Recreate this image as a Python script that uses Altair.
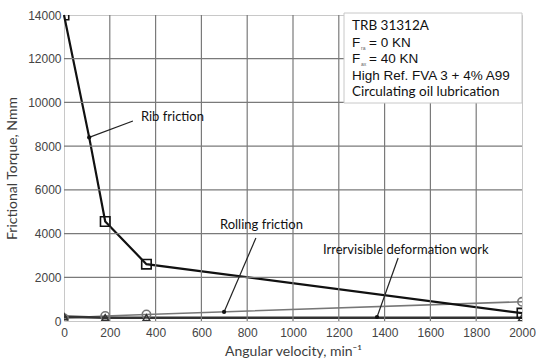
import altair as alt
import pandas as pd

# ---- data ----
speed = [0, 180, 360, 2000]
rib_x = [0, 110, 180, 360, 2000]
rib_y = [14000, 8400, 4550, 2600, 360]
rolling_y = [130, 230, 300, 880]
deform_y = [200, 150, 150, 150]

x_ticks = list(range(0, 2001, 200))
y_ticks = list(range(0, 14001, 2000))

ann_text = ["Rib friction", "Rolling friction", "Irrervisible deformation work"]
ann_tx = [336, 681, 1131]
ann_ty = [9333, 4392, 3248]
ptr_x1 = [301, 838, 1459]
ptr_y1 = [9150, 3797, 2882]
ptr_x2 = [110, 699, 1367]
ptr_y2 = [8400, 412, 183]

legend_lines = ["TRB 31312A", "= 0 KN", "= 40 KN", "High Ref. FVA 3 + 4% A99", "Circulating oil lubrication"]

W, H = 458, 306

rib = pd.DataFrame({"x": rib_x, "y": rib_y})
rib_m = pd.DataFrame({"x": speed, "y": [rib_y[0]] + rib_y[2:]})
roll = pd.DataFrame({"x": speed, "y": rolling_y})
defo = pd.DataFrame({"x": speed, "y": deform_y})
ann = pd.DataFrame({"t": ann_text, "x": ann_tx, "y": ann_ty,
                    "x1": ptr_x1, "y1": ptr_y1, "xe": ptr_x2, "ye": ptr_y2})
gx = pd.DataFrame({"gxv": x_ticks[1:-1]})
gy = pd.DataFrame({"gyv": y_ticks[1:-1]})

xs = alt.Scale(domain=[0, 2000], nice=False)
ys = alt.Scale(domain=[0, 14000], nice=False)

xax = alt.Axis(values=x_ticks, title="Angular velocity, min\u207b\u00b9", format="d")
yax = alt.Axis(values=y_ticks, title="Frictional Torque, Nmm", format="d")

X = alt.X("x:Q", scale=xs, axis=xax)
Y = alt.Y("y:Q", scale=ys, axis=yax)

grid_x = alt.Chart(gx).mark_rule(color="#7a7a7a", strokeWidth=1.2).encode(
    x=alt.X("gxv:Q", scale=xs, axis=xax), y=alt.value(0), y2=alt.value(H))
grid_y = alt.Chart(gy).mark_rule(color="#7a7a7a", strokeWidth=1.2).encode(
    y=alt.Y("gyv:Q", scale=ys, axis=yax), x=alt.value(0), x2=alt.value(W))

rib_line = alt.Chart(rib).mark_line(color="#111", strokeWidth=2.2).encode(x=X, y=Y)
rib_pts = alt.Chart(rib_m).mark_point(shape="square", size=90, filled=False, color="#111",
                                      strokeWidth=1.6, opacity=1, clip=True).encode(x=X, y=Y)
roll_line = alt.Chart(roll).mark_line(color="#777", strokeWidth=1.6).encode(x=X, y=Y)
roll_pts = alt.Chart(roll).mark_point(shape="circle", size=70, filled=False, color="#777",
                                      strokeWidth=1.6, opacity=1, clip=True).encode(x=X, y=Y)
defo_line = alt.Chart(defo).mark_line(color="#333", strokeWidth=2.6).encode(x=X, y=Y)
defo_pts = alt.Chart(defo).mark_point(shape="triangle-up", size=50, filled=False, color="#333",
                                      strokeWidth=1.5, opacity=1, clip=True).encode(x=X, y=Y)

ptr = alt.Chart(ann).mark_rule(color="#222", strokeWidth=1.2).encode(
    x=alt.X("x1:Q", scale=xs, axis=xax), y=alt.Y("y1:Q", scale=ys, axis=yax),
    x2="xe:Q", y2="ye:Q")
dots = alt.Chart(ann).mark_circle(color="#111", size=18, opacity=1).encode(
    x=alt.X("xe:Q", scale=xs, axis=xax), y=alt.Y("ye:Q", scale=ys, axis=yax))
ann_txt = alt.Chart(ann).mark_text(align="left", baseline="middle", font="Lato",
                                   fontSize=13, color="#111").encode(
    x=alt.X("x:Q", scale=xs, axis=xax), y=alt.Y("y:Q", scale=ys, axis=yax), text="t:N")

box = alt.Chart(pd.DataFrame({"a": [0]})).mark_rect(fill="white", stroke="#c8c8c8",
                                                    strokeWidth=1).encode(
    x=alt.value(280), x2=alt.value(458), y=alt.value(-2), y2=alt.value(88))

def txt(s, x, y, font, size, color="#111"):
    return alt.Chart(pd.DataFrame({"t": [s]})).mark_text(
        align="left", baseline="middle", font=font, fontSize=size, color=color).encode(
        x=alt.value(x), y=alt.value(y), text="t:N")

leg = [
    txt(legend_lines[0], 288, 11, "Lato", 13.5),
    txt("F", 288, 28, "Liberation Sans", 13.5),
    txt("ra", 297, 33, "Liberation Sans", 5, "#666"),
    txt(legend_lines[1], 305, 28, "Liberation Sans", 13.5),
    txt("F", 288, 44, "Liberation Sans", 13.5),
    txt("ax", 297, 49, "Liberation Sans", 5, "#666"),
    txt(legend_lines[2], 305, 44, "Liberation Sans", 13.5),
    txt(legend_lines[3], 288, 61, "Liberation Sans", 13.5),
    txt(legend_lines[4], 288, 77, "Lato", 13.5),
]

chart = alt.layer(roll_line, defo_line, rib_line, grid_x, grid_y, roll_pts, defo_pts, rib_pts,
                  ptr, dots, ann_txt, box, *leg).properties(
    width=W, height=H,
    autosize=alt.AutoSizeParams(type="none"),
    padding={"left": 64, "top": 15, "right": 14, "bottom": 41},
    background="white",
).configure_view(stroke="#c8c8c8", strokeWidth=1).configure_axis(
    grid=False, domain=False, ticks=False, labelFlush=False,
    labelFont="Liberation Sans", labelFontSize=12, labelColor="#444",
    titleFont="Lato", titleFontSize=14, titleFontWeight="normal", titleColor="#3d3d3d",
).configure_axisX(labelPadding=6, titlePadding=6).configure_axisY(labelPadding=3, titlePadding=8)

chart.save("out.html", embed_options={"renderer": "svg", "actions": False})
